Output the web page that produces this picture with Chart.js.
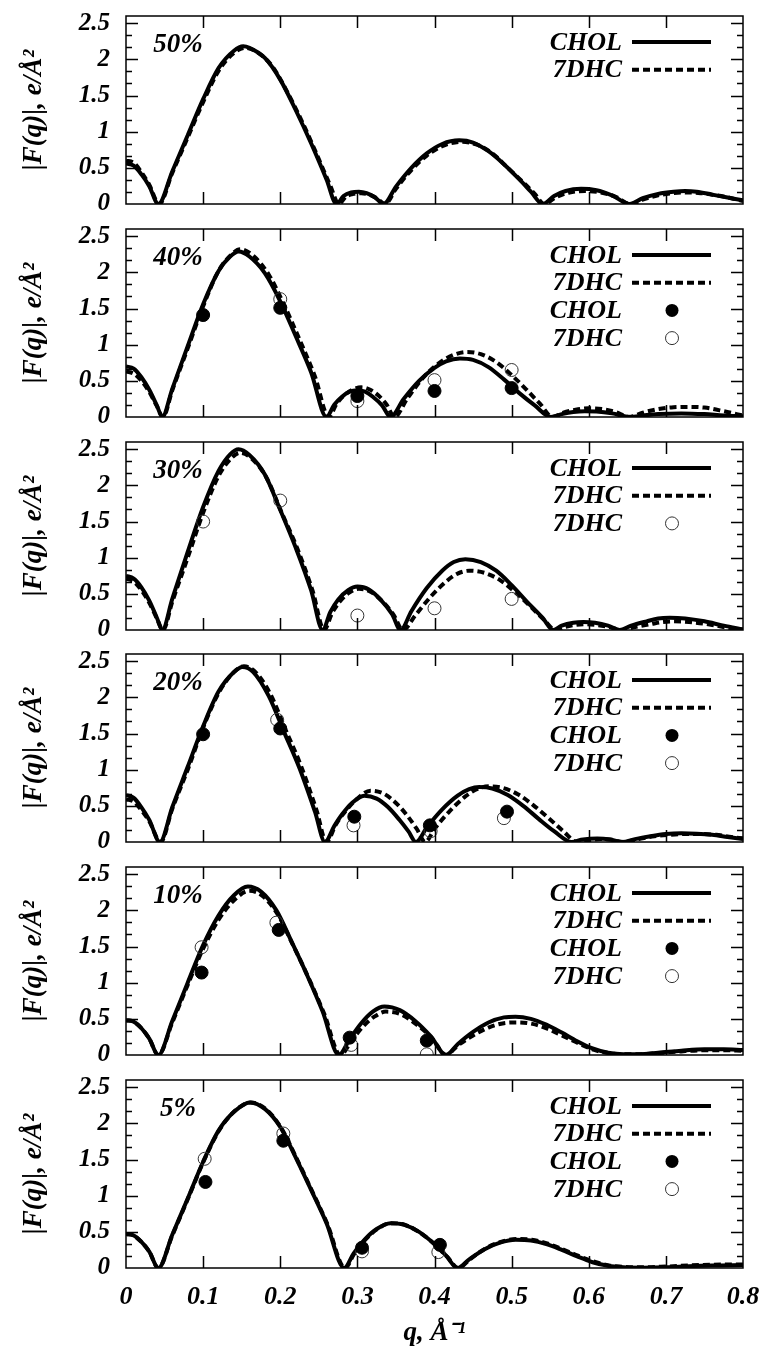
<!DOCTYPE html>
<html>
<head>
<meta charset="utf-8">
<script src="https://cdn.jsdelivr.net/npm/chart.js@4.4.0/dist/chart.umd.min.js"></script>
<style>
  body { margin: 0; background: #fff; }
  #wrap { position: relative; width: 768px; height: 1355px; overflow: hidden; }
  #wrap canvas { position: absolute; left: 0; }
</style>
</head>
<body>
<div id="wrap"></div>
<script>
// |F(q)| curves, [q, F] pairs
const chol50 = [[0,0.56],[0.01,0.53],[0.02,0.41],[0.03,0.25],[0.042,0],[0.06,0.45],[0.08,0.95],[0.1,1.45],[0.12,1.88],[0.14,2.12],[0.152,2.18],[0.16,2.16],[0.18,2.02],[0.2,1.72],[0.22,1.3],[0.24,0.84],[0.26,0.34],[0.273,0],[0.282,0.11],[0.292,0.16],[0.302,0.17],[0.312,0.15],[0.323,0.09],[0.334,0],[0.35,0.24],[0.37,0.5],[0.39,0.7],[0.41,0.83],[0.432,0.88],[0.45,0.85],[0.47,0.73],[0.49,0.55],[0.51,0.34],[0.525,0.17],[0.54,0],[0.555,0.11],[0.57,0.18],[0.59,0.21],[0.61,0.19],[0.63,0.12],[0.653,0],[0.67,0.08],[0.69,0.14],[0.71,0.17],[0.725,0.18],[0.74,0.17],[0.76,0.13],[0.78,0.09],[0.8,0.05]];
const dhc50 = [[0,0.6],[0.01,0.57],[0.02,0.44],[0.03,0.27],[0.043,0],[0.06,0.43],[0.08,0.92],[0.1,1.41],[0.12,1.84],[0.14,2.09],[0.154,2.16],[0.17,2.1],[0.19,1.9],[0.21,1.53],[0.23,1.1],[0.25,0.62],[0.265,0.25],[0.276,0],[0.285,0.1],[0.295,0.14],[0.305,0.15],[0.315,0.13],[0.325,0.08],[0.336,0],[0.35,0.21],[0.37,0.47],[0.39,0.67],[0.41,0.8],[0.435,0.86],[0.455,0.82],[0.475,0.7],[0.495,0.5],[0.515,0.3],[0.53,0.14],[0.542,0],[0.557,0.09],[0.575,0.16],[0.595,0.18],[0.615,0.16],[0.635,0.1],[0.654,0],[0.67,0.06],[0.69,0.12],[0.71,0.15],[0.725,0.16],[0.745,0.15],[0.765,0.12],[0.785,0.08],[0.8,0.04]];

const chol40 = [[0,0.7],[0.01,0.67],[0.02,0.55],[0.03,0.38],[0.04,0.16],[0.047,0],[0.06,0.39],[0.08,0.98],[0.1,1.56],[0.12,2.02],[0.135,2.22],[0.146,2.29],[0.16,2.22],[0.18,1.99],[0.2,1.6],[0.22,1.12],[0.24,0.62],[0.26,0],[0.27,0.17],[0.28,0.28],[0.29,0.35],[0.3,0.37],[0.31,0.35],[0.32,0.28],[0.332,0.16],[0.343,0],[0.36,0.25],[0.38,0.5],[0.4,0.68],[0.415,0.77],[0.433,0.81],[0.45,0.79],[0.47,0.69],[0.49,0.52],[0.51,0.33],[0.53,0.16],[0.551,0],[0.565,0.04],[0.58,0.07],[0.595,0.08],[0.61,0.075],[0.63,0.05],[0.654,0],[0.67,0.02],[0.69,0.04],[0.72,0.05],[0.75,0.04],[0.775,0.02],[0.8,0.01]];
const dhc40 = [[0,0.63],[0.01,0.6],[0.02,0.5],[0.03,0.35],[0.04,0.15],[0.048,0],[0.06,0.37],[0.08,0.95],[0.1,1.53],[0.12,2.02],[0.137,2.25],[0.148,2.32],[0.165,2.23],[0.185,1.97],[0.205,1.55],[0.225,1.07],[0.245,0.56],[0.263,0],[0.273,0.18],[0.283,0.3],[0.294,0.38],[0.305,0.41],[0.316,0.38],[0.327,0.3],[0.338,0.17],[0.348,0],[0.365,0.26],[0.385,0.54],[0.405,0.74],[0.425,0.86],[0.442,0.9],[0.46,0.87],[0.48,0.76],[0.5,0.58],[0.52,0.37],[0.537,0.18],[0.553,0],[0.567,0.06],[0.583,0.1],[0.6,0.12],[0.617,0.11],[0.635,0.07],[0.652,0],[0.67,0.06],[0.69,0.11],[0.71,0.135],[0.73,0.14],[0.75,0.13],[0.775,0.08],[0.8,0.02]];

const chol30 = [[0,0.75],[0.01,0.71],[0.02,0.59],[0.03,0.41],[0.04,0.17],[0.047,0],[0.06,0.43],[0.08,1.08],[0.1,1.7],[0.12,2.2],[0.135,2.43],[0.146,2.5],[0.16,2.42],[0.18,2.15],[0.2,1.66],[0.22,1.14],[0.24,0.55],[0.255,0],[0.265,0.25],[0.275,0.42],[0.288,0.55],[0.3,0.6],[0.315,0.56],[0.33,0.42],[0.345,0.22],[0.356,0],[0.37,0.26],[0.39,0.58],[0.41,0.82],[0.425,0.94],[0.44,0.98],[0.46,0.94],[0.48,0.82],[0.5,0.62],[0.52,0.39],[0.54,0.17],[0.554,0],[0.565,0.06],[0.58,0.1],[0.593,0.11],[0.608,0.1],[0.625,0.06],[0.64,0],[0.655,0.06],[0.675,0.12],[0.69,0.16],[0.705,0.17],[0.725,0.16],[0.75,0.12],[0.775,0.06],[0.8,0.01]];
const dhc30 = [[0,0.71],[0.01,0.67],[0.02,0.55],[0.03,0.38],[0.04,0.16],[0.048,0],[0.06,0.39],[0.08,1.0],[0.1,1.62],[0.12,2.13],[0.137,2.38],[0.148,2.45],[0.162,2.38],[0.182,2.11],[0.202,1.62],[0.222,1.13],[0.242,0.54],[0.257,0],[0.267,0.23],[0.277,0.39],[0.29,0.52],[0.302,0.57],[0.317,0.53],[0.332,0.4],[0.347,0.21],[0.359,0],[0.375,0.2],[0.395,0.46],[0.415,0.67],[0.43,0.78],[0.445,0.82],[0.465,0.79],[0.485,0.69],[0.505,0.52],[0.525,0.32],[0.542,0.14],[0.557,0],[0.568,0.04],[0.582,0.07],[0.595,0.08],[0.61,0.07],[0.627,0.04],[0.642,0],[0.66,0.04],[0.68,0.08],[0.695,0.11],[0.71,0.12],[0.73,0.11],[0.755,0.08],[0.78,0.03],[0.8,0]];

const chol20 = [[0,0.65],[0.01,0.61],[0.02,0.48],[0.03,0.31],[0.044,0],[0.06,0.48],[0.08,1.04],[0.1,1.6],[0.12,2.08],[0.14,2.35],[0.151,2.42],[0.165,2.35],[0.185,2.02],[0.205,1.52],[0.225,1.02],[0.245,0.42],[0.258,0],[0.27,0.22],[0.28,0.38],[0.293,0.54],[0.309,0.64],[0.325,0.6],[0.34,0.48],[0.355,0.3],[0.366,0.15],[0.376,0],[0.39,0.2],[0.41,0.45],[0.43,0.64],[0.445,0.73],[0.458,0.76],[0.475,0.74],[0.495,0.65],[0.515,0.5],[0.535,0.32],[0.555,0.15],[0.578,0],[0.59,0.03],[0.611,0.05],[0.628,0.035],[0.643,0],[0.66,0.04],[0.68,0.08],[0.7,0.11],[0.72,0.12],[0.74,0.115],[0.76,0.1],[0.78,0.07],[0.8,0.04]];
const dhc20 = [[0,0.59],[0.01,0.56],[0.02,0.44],[0.03,0.29],[0.045,0],[0.06,0.46],[0.08,1.0],[0.1,1.58],[0.12,2.06],[0.14,2.35],[0.153,2.43],[0.167,2.36],[0.187,2.05],[0.207,1.55],[0.227,1.05],[0.247,0.44],[0.26,0],[0.272,0.24],[0.284,0.42],[0.3,0.6],[0.317,0.71],[0.334,0.67],[0.35,0.54],[0.365,0.36],[0.377,0.18],[0.388,0],[0.4,0.18],[0.42,0.43],[0.44,0.63],[0.457,0.74],[0.471,0.77],[0.488,0.75],[0.508,0.66],[0.528,0.51],[0.548,0.33],[0.567,0.15],[0.585,0],[0.6,0.025],[0.615,0.04],[0.63,0.03],[0.645,0],[0.665,0.04],[0.685,0.08],[0.705,0.1],[0.725,0.11],[0.745,0.11],[0.765,0.1],[0.785,0.07],[0.8,0.05]];

const chol10 = [[0,0.48],[0.01,0.46],[0.02,0.37],[0.03,0.23],[0.042,0],[0.06,0.47],[0.08,1.0],[0.1,1.52],[0.12,1.93],[0.14,2.21],[0.158,2.33],[0.175,2.26],[0.195,2.0],[0.215,1.56],[0.235,1.1],[0.255,0.6],[0.276,0],[0.29,0.22],[0.305,0.44],[0.32,0.6],[0.335,0.67],[0.355,0.62],[0.375,0.47],[0.395,0.26],[0.415,0],[0.43,0.15],[0.45,0.32],[0.47,0.45],[0.49,0.52],[0.505,0.53],[0.525,0.5],[0.545,0.42],[0.565,0.31],[0.585,0.19],[0.605,0.09],[0.625,0.03],[0.645,0.01],[0.665,0.01],[0.69,0.03],[0.72,0.06],[0.75,0.08],[0.775,0.08],[0.8,0.07]];
const dhc10 = [[0,0.48],[0.01,0.46],[0.02,0.37],[0.03,0.23],[0.042,0],[0.06,0.45],[0.08,0.97],[0.1,1.47],[0.12,1.87],[0.14,2.14],[0.16,2.27],[0.177,2.2],[0.197,1.94],[0.217,1.51],[0.237,1.06],[0.257,0.57],[0.278,0],[0.292,0.19],[0.307,0.39],[0.322,0.53],[0.337,0.6],[0.357,0.56],[0.377,0.42],[0.397,0.23],[0.415,0],[0.43,0.13],[0.45,0.27],[0.47,0.38],[0.49,0.44],[0.507,0.45],[0.527,0.43],[0.547,0.36],[0.567,0.26],[0.587,0.16],[0.607,0.07],[0.627,0.025],[0.647,0.01],[0.667,0.01],[0.69,0.025],[0.72,0.05],[0.75,0.065],[0.775,0.065],[0.8,0.06]];

const chol5 = [[0,0.47],[0.01,0.45],[0.02,0.36],[0.03,0.23],[0.042,0],[0.06,0.46],[0.08,0.96],[0.1,1.47],[0.12,1.9],[0.14,2.16],[0.161,2.29],[0.18,2.2],[0.2,1.95],[0.22,1.53],[0.24,1.08],[0.26,0.62],[0.283,0],[0.295,0.2],[0.31,0.4],[0.325,0.54],[0.343,0.62],[0.36,0.6],[0.38,0.5],[0.4,0.33],[0.415,0.17],[0.43,0],[0.445,0.12],[0.465,0.26],[0.485,0.35],[0.505,0.39],[0.525,0.38],[0.545,0.33],[0.565,0.25],[0.585,0.16],[0.605,0.08],[0.625,0.03],[0.645,0.01],[0.67,0.005],[0.7,0.01],[0.73,0.025],[0.76,0.035],[0.8,0.04]];
const dhc5 = [[0,0.47],[0.01,0.45],[0.02,0.36],[0.03,0.23],[0.042,0],[0.06,0.45],[0.08,0.95],[0.1,1.46],[0.12,1.89],[0.14,2.16],[0.162,2.29],[0.181,2.2],[0.201,1.94],[0.221,1.52],[0.241,1.07],[0.261,0.61],[0.284,0],[0.296,0.2],[0.311,0.4],[0.326,0.54],[0.344,0.62],[0.361,0.6],[0.381,0.49],[0.401,0.32],[0.416,0.16],[0.431,0],[0.446,0.12],[0.466,0.27],[0.486,0.36],[0.506,0.4],[0.526,0.39],[0.546,0.34],[0.566,0.26],[0.586,0.17],[0.606,0.09],[0.626,0.035],[0.646,0.015],[0.67,0.01],[0.7,0.02],[0.73,0.035],[0.76,0.045],[0.8,0.05]];

// measured points
const cholPts40 = [[0.1,1.41],[0.2,1.51],[0.3,0.29],[0.4,0.36],[0.5,0.4]];
const dhcPts40 = [[0.2,1.63],[0.3,0.22],[0.4,0.51],[0.5,0.65]];
const dhcPts30 = [[0.1,1.5],[0.2,1.79],[0.3,0.2],[0.4,0.3],[0.5,0.43]];
const cholPts20 = [[0.1,1.49],[0.2,1.57],[0.296,0.35],[0.394,0.23],[0.494,0.42]];
const dhcPts20 = [[0.196,1.69],[0.295,0.23],[0.395,0.15],[0.49,0.33]];
const cholPts10 = [[0.098,1.14],[0.198,1.73],[0.29,0.24],[0.39,0.2]];
const dhcPts10 = [[0.098,1.49],[0.195,1.83],[0.292,0.14],[0.39,0.01]];
const cholPts5 = [[0.103,1.19],[0.204,1.76],[0.306,0.28],[0.407,0.32]];
const dhcPts5 = [[0.102,1.51],[0.204,1.86],[0.306,0.23],[0.405,0.22]];

const panelLabels = ["50%", "40%", "30%", "20%", "10%", "5%"];
const qTicks = [0.1, 0.2, 0.3, 0.4, 0.5, 0.6, 0.7];
const fTicks = [0, 0.5, 1, 1.5, 2, 2.5];

const FAMILY = "'Liberation Serif', 'Times New Roman', serif";
const PLOT_TOPS = [16, 229, 442, 654, 867, 1080];
const PLOT_H = 188;

const panels = [
  { label: panelLabels[0], chol: chol50, dhc: dhc50, cholPts: null, dhcPts: null, legend: ["line", "dash"] },
  { label: panelLabels[1], chol: chol40, dhc: dhc40, cholPts: cholPts40, dhcPts: dhcPts40, legend: ["line", "dash", "dot", "ring"] },
  { label: panelLabels[2], chol: chol30, dhc: dhc30, cholPts: null, dhcPts: dhcPts30, legend: ["line", "dash", "ring"] },
  { label: panelLabels[3], chol: chol20, dhc: dhc20, cholPts: cholPts20, dhcPts: dhcPts20, legend: ["line", "dash", "dot", "ring"] },
  { label: panelLabels[4], chol: chol10, dhc: dhc10, cholPts: cholPts10, dhcPts: dhcPts10, legend: ["line", "dash", "dot", "ring"] },
  { label: panelLabels[5], chol: chol5, dhc: dhc5, cholPts: cholPts5, dhcPts: dhcPts5, legend: ["line", "dash", "dot", "ring"] },
];

// frame, inward ticks, panel label and legend
const decorPlugin = {
  id: "decor",
  afterDatasetsDraw(chart, args, opts) {
    const { ctx, chartArea: a, scales } = chart;
    const xs = scales.x, ys = scales.y;
    ctx.save();
    ctx.strokeStyle = "#000";
    ctx.lineWidth = 1.5;
    ctx.strokeRect(a.left, a.top, a.right - a.left, a.bottom - a.top);
    ctx.beginPath();
    qTicks.forEach((v) => {
      const px = Math.round(xs.getPixelForValue(v)) + 0.5;
      ctx.moveTo(px, a.bottom); ctx.lineTo(px, a.bottom - 12);
      ctx.moveTo(px, a.top); ctx.lineTo(px, a.top + 12);
    });
    for (let k = 1; k <= 15; k++) {
      const v = k / 6;
      const len = k % 3 === 0 ? 12 : 6;
      const py = Math.round(ys.getPixelForValue(v)) + 0.5;
      ctx.moveTo(a.left, py); ctx.lineTo(a.left + len, py);
      ctx.moveTo(a.right, py); ctx.lineTo(a.right - len, py);
    }
    ctx.stroke();

    // panel label
    ctx.fillStyle = "#000";
    ctx.font = "italic bold 27px " + FAMILY;
    ctx.textAlign = "center";
    ctx.textBaseline = "middle";
    ctx.fillText(opts.label, a.left + 52, a.top + 29);

    // legend
    ctx.font = "italic bold 26px " + FAMILY;
    opts.legend.forEach((kind, i) => {
      const y = a.top + 26 + i * 27.7;
      const name = kind === "line" || kind === "dot" ? "CHOL" : "7DHC";
      ctx.textAlign = "right";
      ctx.fillText(name, a.left + 496, y + 1);
      if (kind === "line" || kind === "dash") {
        ctx.beginPath();
        ctx.lineWidth = 4;
        ctx.setLineDash(kind === "dash" ? [7, 4] : []);
        ctx.moveTo(a.left + 506, y);
        ctx.lineTo(a.left + 585, y);
        ctx.stroke();
        ctx.setLineDash([]);
      } else {
        ctx.beginPath();
        ctx.arc(a.left + 546, y, 6.5, 0, Math.PI * 2);
        if (kind === "dot") { ctx.fill(); }
        else { ctx.lineWidth = 1; ctx.strokeStyle = "#333"; ctx.stroke(); ctx.strokeStyle = "#000"; }
      }
    });
    ctx.restore();
  },
};

const wrap = document.getElementById("wrap");

panels.forEach((p, idx) => {
  const last = idx === panels.length - 1;
  const top = PLOT_TOPS[idx] - 12;
  const height = last ? 1355 - top : PLOT_H + 24;
  const canvas = document.createElement("canvas");
  canvas.width = 768;
  canvas.height = height;
  canvas.style.top = top + "px";
  wrap.appendChild(canvas);

  const datasets = [];
  if (p.cholPts) {
    datasets.push({ type: "scatter", data: p.cholPts, pointRadius: 6.5, pointBackgroundColor: "#000", pointBorderColor: "#000", showLine: false, order: 0 });
  }
  if (p.dhcPts) {
    datasets.push({ type: "scatter", data: p.dhcPts, pointRadius: 6.5, pointBackgroundColor: "rgba(0,0,0,0)", pointBorderColor: "#333", pointBorderWidth: 1, showLine: false, order: 0 });
  }
  datasets.push({ type: "line", data: p.dhc, borderColor: "#000", borderWidth: 4, borderDash: [7, 4], pointRadius: 0, cubicInterpolationMode: "monotone", fill: false, order: 2 });
  datasets.push({ type: "line", data: p.chol, borderColor: "#000", borderWidth: 4, pointRadius: 0, cubicInterpolationMode: "monotone", fill: false, order: 1 });

  new Chart(canvas.getContext("2d"), {
    type: "line",
    data: { datasets: datasets },
    options: {
      responsive: false,
      animation: false,
      layout: { padding: { top: 12, bottom: last ? 0 : 12, left: 0, right: 25 } },
      plugins: { legend: { display: false }, tooltip: { enabled: false }, decor: { label: p.label, legend: p.legend } },
      scales: {
        x: {
          type: "linear",
          min: 0,
          max: 0.8,
          display: last,
          grid: { display: false, drawTicks: false },
          border: { display: false },
          ticks: { stepSize: 0.1, padding: 14, color: "#000", maxRotation: 0, font: { family: FAMILY, size: 26, style: "italic", weight: "bold" } },
          title: { display: true, text: "q, Å⁻¹", color: "#000", padding: { top: 0, bottom: 6 }, font: { family: FAMILY, size: 27, style: "italic", weight: "bold" } },
          afterFit: (s) => {
            s.paddingLeft = 0;
            s.paddingRight = 0;
            if (last) s.height = 87;
          },
        },
        y: {
          min: 0,
          max: 2.6,
          grid: { display: false, drawTicks: false },
          border: { display: false },
          ticks: {
            stepSize: 0.5,
            includeBounds: false,
            padding: 16,
            color: "#000",
            font: { family: FAMILY, size: 25, style: "italic", weight: "bold" },
            callback: (v) => (fTicks.includes(v) ? String(v) : ""),
          },
          title: { display: true, text: "|F(q)|, e/Å²", color: "#000", padding: { top: 18, bottom: 0 }, font: { family: FAMILY, size: 27, style: "italic", weight: "bold" } },
          afterFit: (s) => {
            s.width = 126;
            s.paddingTop = 0;
            s.paddingBottom = 0;
          },
        },
      },
    },
    plugins: [decorPlugin],
  });
});
</script>
</body>
</html>
